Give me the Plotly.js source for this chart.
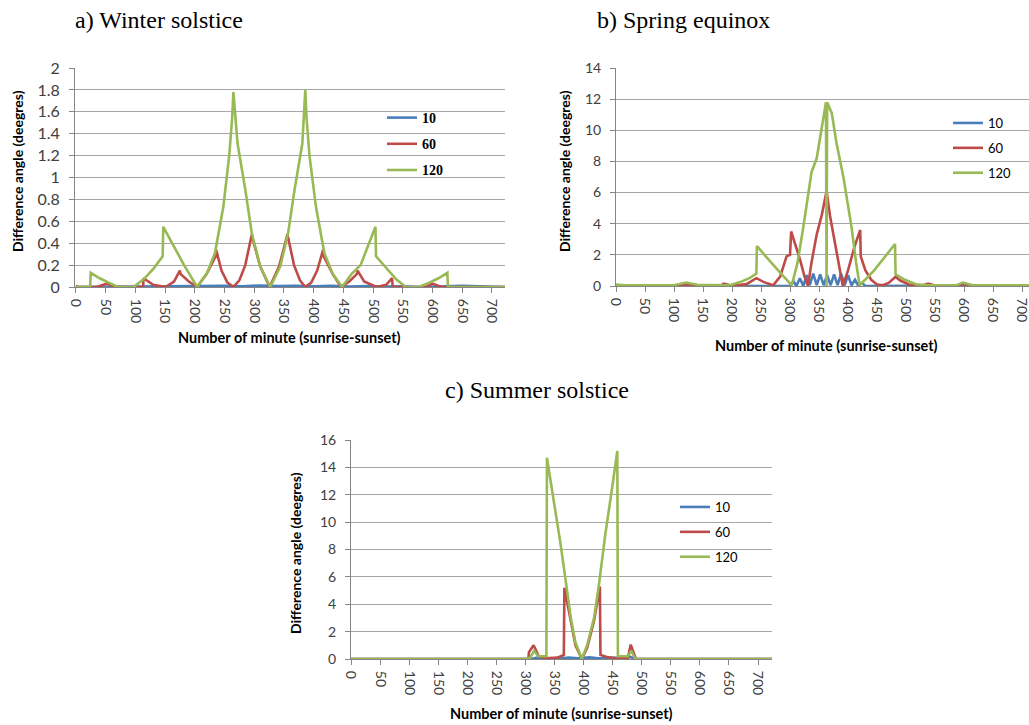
<!DOCTYPE html>
<html>
<head>
<meta charset="utf-8">
<script src="https://cdn.plot.ly/plotly-3.0.1.min.js"></script>
<style>html,body{margin:0;padding:0;background:#fff;}#chart{width:1029px;height:725px;}</style>
</head>
<body>
<div id="chart"></div>
<script>
// ---------- shared labels ----------
const seriesNames = ['10', '60', '120'];
const panelTitles = ['a) Winter solstice', 'b) Spring equinox', 'c) Summer solstice'];
const xTitle = 'Number of minute (sunrise-sunset)';
const yTitle = 'Difference angle (deegres)';
const xTickVals = [0, 50, 100, 150, 200, 250, 300, 350, 400, 450, 500, 550, 600, 650, 700];
const xTickText = ['0', '50', '100', '150', '200', '250', '300', '350', '400', '450', '500', '550', '600', '650', '700'];
const yTickValsA = [0, 0.2, 0.4, 0.6, 0.8, 1, 1.2, 1.4, 1.6, 1.8, 2];
const yTickTextA = ['0', '0.2', '0.4', '0.6', '0.8', '1', '1.2', '1.4', '1.6', '1.8', '2'];
const yTickValsB = [0, 2, 4, 6, 8, 10, 12, 14];
const yTickTextB = ['0', '2', '4', '6', '8', '10', '12', '14'];
const yTickValsC = [0, 2, 4, 6, 8, 10, 12, 14, 16];
const yTickTextC = ['0', '2', '4', '6', '8', '10', '12', '14', '16'];

// ---------- a) Winter solstice ----------
const winter10X = [0, 100, 130, 160, 190, 220, 250, 280, 310, 340, 370, 400, 430, 460, 490, 520, 550, 580, 650, 724];
const winter10Y = [0, 0.004, 0.008, 0.004, 0.01, 0.006, 0.012, 0.006, 0.014, 0.008, 0.012, 0.006, 0.01, 0.004, 0.008, 0.004, 0.006, 0, 0.01, 0];
const winter60X = [0, 5, 35, 52, 70, 113, 114, 130, 151, 165, 175, 176, 190, 204, 220, 235, 236, 245, 255, 265, 275, 285, 296, 297, 310, 326, 342, 355, 356, 367, 377, 386, 396, 406, 416, 417, 432, 446, 460, 473, 474, 485, 506, 522, 532, 533, 590, 600, 615, 724];
const winter60Y = [0.01, 0, 0, 0.03, 0, 0, 0.08, 0.02, 0, 0.05, 0.15, 0.12, 0.05, 0, 0.12, 0.28, 0.34, 0.15, 0.04, 0, 0.06, 0.2, 0.48, 0.45, 0.19, 0, 0.19, 0.45, 0.48, 0.2, 0.06, 0, 0.04, 0.15, 0.34, 0.28, 0.12, 0, 0.05, 0.12, 0.15, 0.05, 0, 0.02, 0.08, 0, 0, 0.03, 0, 0];
const winter120X = [0, 24, 25, 40, 55, 71, 97, 114, 131, 146, 147, 165, 182, 204, 220, 234, 248, 258, 263, 265, 272, 285, 296, 310, 327, 344, 357, 368, 381, 386, 388, 393, 404, 418, 432, 448, 464, 479, 504, 505, 522, 539, 555, 577, 595, 610, 625, 626, 724];
const winter120Y = [0, 0, 0.13, 0.08, 0.04, 0, 0, 0.07, 0.17, 0.28, 0.55, 0.37, 0.2, 0, 0.12, 0.31, 0.73, 1.2, 1.55, 1.78, 1.31, 0.89, 0.49, 0.19, 0, 0.19, 0.49, 0.89, 1.31, 1.8, 1.55, 1.2, 0.73, 0.31, 0.12, 0, 0.12, 0.2, 0.55, 0.28, 0.17, 0.07, 0, 0, 0.04, 0.08, 0.13, 0, 0];

// ---------- b) Spring equinox ----------
const spring10X = [0, 200, 290, 300, 306, 311, 317, 323, 329, 334, 340, 346, 352, 358, 364, 370, 376, 382, 388, 394, 400, 406, 412, 418, 424, 430, 500, 712];
const spring10Y = [0.02, 0.02, 0.02, 0, 0.3, 0, 0.5, 0, 0.7, 0.05, 0.8, 0.05, 0.75, 0.05, 0.7, 0.05, 0.75, 0.05, 0.8, 0.05, 0.7, 0.05, 0.4, 0, 0.2, 0, 0.02, 0.02];
const spring60X = [0, 100, 121, 135, 180, 186, 200, 225, 242, 255, 271, 283, 294, 300, 302, 310, 318, 325, 331, 337, 346, 355, 360, 363, 369, 375, 383, 391, 400, 411, 421, 422, 430, 440, 450, 460, 470, 482, 490, 505, 530, 538, 550, 590, 598, 610, 712];
const spring60Y = [0.05, 0.02, 0.12, 0.02, 0.03, 0.15, 0.02, 0.12, 0.5, 0.25, 0.05, 0.6, 1.9, 2.0, 3.5, 2.6, 1.6, 0.6, 0, 1.5, 3.3, 4.6, 5.5, 6.1, 4.5, 3.3, 1.8, 0, 1.0, 2.5, 3.6, 1.9, 1.0, 0.4, 0.1, 0.05, 0.2, 0.6, 0.35, 0.1, 0.05, 0.15, 0.03, 0.05, 0.15, 0.02, 0.02];
const spring120X = [0, 15, 100, 121, 140, 196, 214, 230, 242, 243, 257, 272, 288, 303, 313, 323, 337, 346, 357, 362, 363, 364, 372, 380, 392, 406, 414, 420, 432, 445, 462, 481, 482, 498, 518, 540, 587, 598, 615, 712];
const spring120Y = [0.1, 0.05, 0.05, 0.22, 0.08, 0.05, 0.25, 0.5, 0.8, 2.57, 1.95, 1.3, 0.65, 0.05, 1.5, 3.8, 7.3, 8.2, 10.7, 11.8, 0, 11.8, 11.1, 9.2, 7.0, 3.8, 1.5, 0.05, 0.5, 1.0, 1.8, 2.7, 0.75, 0.4, 0.1, 0.05, 0.05, 0.22, 0.05, 0.05];

// ---------- c) Summer solstice ----------
const summer10X = [0, 310, 320, 330, 360, 375, 390, 410, 425, 450, 470, 480, 490, 724];
const summer10Y = [0, 0, 0.1, 0.02, 0.05, 0.1, 0.05, 0.12, 0.05, 0.1, 0.05, 0.15, 0, 0];
const summer60X = [0, 305, 306, 314, 323, 335, 355, 366, 367, 378, 386, 397, 406, 418, 428, 429, 440, 452, 476, 481, 488, 490, 724];
const summer60Y = [0, 0, 0.5, 1.0, 0.2, 0.05, 0.1, 0.3, 5.2, 2.6, 1.0, 0, 0.8, 2.8, 5.3, 0.3, 0.15, 0.05, 0.05, 1.05, 0.3, 0, 0];
const summer120X = [0, 300, 308, 315, 322, 336, 337, 349, 360, 369, 378, 386, 397, 406, 418, 426, 437, 449, 458, 459, 476, 482, 489, 724];
const summer120Y = [0, 0, 0.1, 0.6, 0.2, 0.2, 14.7, 11.5, 8.5, 5.8, 3.0, 1.2, 0, 1.0, 3.0, 5.3, 9.0, 12.5, 15.2, 0.2, 0.2, 0.6, 0, 0];

// ---------- styling ----------
const colors = ['#4a7ebb', '#be4b48', '#98b954'];
const LW = 2.6;
const W = 1029, H = 725;
const px = v => v / W;
const py = v => 1 - v / H;
const tickFontFamily = 'Lato, "Open Sans", sans-serif';
const gridCol = '#a6a6a6';
const axisCol = '#868686';

const panels = [
  {xs: [winter10X, winter60X, winter120X], ys: [winter10Y, winter60Y, winter120Y], xa: 'x', ya: 'y', lg: 'legend'},
  {xs: [spring10X, spring60X, spring120X], ys: [spring10Y, spring60Y, spring120Y], xa: 'x2', ya: 'y2', lg: 'legend2'},
  {xs: [summer10X, summer60X, summer120X], ys: [summer10Y, summer60Y, summer120Y], xa: 'x3', ya: 'y3', lg: 'legend3'}
];

const traces = [];
panels.forEach((p, pi) => {
  for (let s = 0; s < 3; s++) {
    traces.push({
      type: 'scatter', mode: 'lines',
      x: p.xs[s], y: p.ys[s],
      xaxis: p.xa, yaxis: p.ya,
      name: seriesNames[s],
      legend: p.lg,
      legendgroup: 'p' + pi + 's' + s,
      line: {color: colors[s], width: LW},
      hoverinfo: 'skip'
    });
  }
});

function xAxis(d0, d1, r0, r1, anchor) {
  return {
    domain: [px(d0), px(d1)], range: [r0, r1], anchor: anchor,
    tickmode: 'array', tickvals: xTickVals, ticktext: xTickText,
    tickangle: 90, ticks: 'outside', ticklen: 5, tickcolor: axisCol, tickwidth: 1,
    ticklabelstandoff: 3, ticklabeloverflow: 'allow',
    showline: true, linecolor: axisCol, linewidth: 1,
    showgrid: false, zeroline: false, fixedrange: true,
    tickfont: {family: tickFontFamily, size: 14, color: '#404040'}
  };
}
function yAxis(top, bottom, r1, vals, text, anchor, fs) {
  return {
    domain: [py(bottom), py(top)], range: [0, r1], anchor: anchor,
    tickmode: 'array', tickvals: vals, ticktext: text,
    ticks: 'outside', ticklen: 5, tickcolor: axisCol, tickwidth: 1,
    ticklabelstandoff: 6,
    showline: true, linecolor: axisCol, linewidth: 1,
    showgrid: true, gridcolor: gridCol, gridwidth: 1, zeroline: false, fixedrange: true,
    tickfont: {family: tickFontFamily, size: fs, color: '#404040'}
  };
}
function legendAt(x, y, font) {
  return {
    x: px(x), y: py(y), xanchor: 'left', yanchor: 'top',
    bgcolor: 'rgba(0,0,0,0)', borderwidth: 0,
    traceorder: 'grouped', tracegroupgap: 5, itemwidth: 30,
    font: font
  };
}

const titleFont = {family: '"Liberation Serif", "Times New Roman", serif', size: 24, color: '#000'};
const axTitleFont = {family: tickFontFamily, size: 14, color: '#000', weight: 700};
const xTitleFont = {family: tickFontFamily, size: 14.5, color: '#000', weight: 700};

function ann(text, x, y, font, extra) {
  return Object.assign({text: text, x: px(x), y: py(y), xref: 'paper', yref: 'paper',
    xanchor: 'center', yanchor: 'middle', showarrow: false, font: font}, extra || {});
}

const layout = {
  width: W, height: H,
  margin: {l: 0, r: 0, t: 0, b: 0},
  paper_bgcolor: '#fff', plot_bgcolor: '#fff',
  showlegend: true,
  xaxis: xAxis(75, 505, -1.5, 722, 'y'),
  yaxis: yAxis(68, 287, 2, yTickValsA, yTickTextA, 'x', 16),
  xaxis2: xAxis(616, 1029, 0, 712, 'y2'),
  yaxis2: yAxis(68, 286, 14, yTickValsB, yTickTextB, 'x2', 14),
  xaxis3: xAxis(351, 772, 0, 724, 'y3'),
  yaxis3: yAxis(440, 659, 16, yTickValsC, yTickTextC, 'x3', 14),
  legend: legendAt(382, 102, {family: '"Liberation Serif", serif', size: 14, color: '#000', weight: 700}),
  legend2: legendAt(948, 108, {family: tickFontFamily, size: 13, color: '#000'}),
  legend3: legendAt(675, 492, {family: tickFontFamily, size: 13, color: '#000'}),
  annotations: [
    ann(panelTitles[0], 73, 20, titleFont, {xanchor: 'left'}),
    ann(panelTitles[1], 595, 20, titleFont, {xanchor: 'left'}),
    ann(panelTitles[2], 443, 390, titleFont, {xanchor: 'left'}),
    ann(yTitle, 18, 171, axTitleFont, {textangle: -90}),
    ann(yTitle, 565, 171, axTitleFont, {textangle: -90}),
    ann(yTitle, 295, 553, axTitleFont, {textangle: -90}),
    ann(xTitle, 289, 338, xTitleFont),
    ann(xTitle, 826, 345, xTitleFont),
    ann(xTitle, 561, 713, xTitleFont)
  ]
};

Plotly.newPlot('chart', traces, layout, {staticPlot: true, displayModeBar: false});
</script>
</body>
</html>
